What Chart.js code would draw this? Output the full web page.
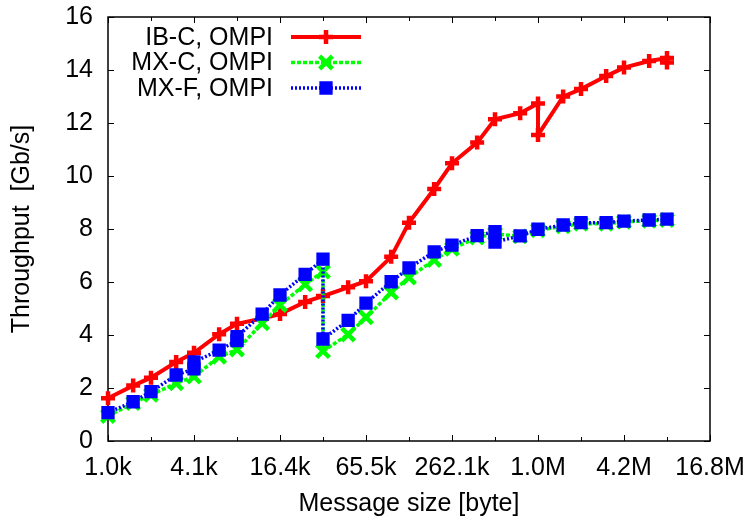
<!DOCTYPE html>
<html>
<head>
<meta charset="utf-8">
<script src="https://cdn.jsdelivr.net/npm/chart.js@4.4.1/dist/chart.umd.min.js"></script>
<style>
  html, body { margin: 0; padding: 0; background: #fff; }
</style>
</head>
<body>
<canvas id="chart" width="746" height="516"></canvas>
<script>
// message sizes (bytes) and throughput (Gb/s)
const ibcSizes = [1024, 1536, 2048, 3072, 4096, 6144, 8192, 12288, 16384, 24576, 32768, 49152, 65536, 98304,
    131072, 196608, 262144, 393216, 524288, 786432, 1048576, 1048576, 1572864, 2097152, 3145728, 4194304,
    6291456, 8388608, 8388608];
const ibcValues = [1.61, 2.09, 2.39, 2.98, 3.33, 4.03, 4.42, 4.62, 4.79, 5.25, 5.47, 5.8, 6.03, 6.95,
    8.24, 9.51, 10.48, 11.26, 12.14, 12.37, 12.74, 11.55, 13.0, 13.28, 13.77, 14.09,
    14.34, 14.45, 14.28];

const mxcSizes = [1024, 1536, 2048, 3072, 4096, 6144, 8192, 12288, 16384, 24576, 32768, 32768, 49152, 65536,
    98304, 131072, 196608, 262144, 393216, 524288, 786432, 1048576, 1572864, 2097152, 3145728, 4194304,
    6291456, 8388608];
const mxcValues = [0.94, 1.43, 1.74, 2.18, 2.43, 3.18, 3.45, 4.44, 5.13, 5.91, 6.39, 3.39, 4.02, 4.67,
    5.6, 6.17, 6.83, 7.25, 7.68, 7.82, 7.72, 7.95, 8.1, 8.2, 8.2, 8.27,
    8.31, 8.34];

const mxfSizes = [1024, 1536, 2048, 3072, 4096, 4096, 6144, 8192, 8192, 12288, 16384, 24576, 32768, 32768,
    49152, 65536, 98304, 131072, 196608, 262144, 393216, 524288, 524288, 786432, 1048576, 1572864,
    2097152, 3145728, 4194304, 6291456, 8388608];
const mxfValues = [1.07, 1.48, 1.86, 2.49, 2.72, 2.98, 3.43, 3.79, 3.94, 4.79, 5.51, 6.29, 6.86, 3.85,
    4.55, 5.2, 6.01, 6.53, 7.14, 7.39, 7.75, 7.9, 7.51, 7.74, 7.99, 8.15,
    8.24, 8.24, 8.3, 8.34, 8.37];

// axis ticks
const xTickValues = [1024, 4096, 16384, 65536, 262144, 1048576, 4194304, 16777216];
const xTickLabels = ['1.0k', '4.1k', '16.4k', '65.5k', '262.1k', '1.0M', '4.2M', '16.8M'];
const xMinorTicks = [2048, 8192, 32768, 131072, 524288, 2097152, 8388608];
const yTickValues = [0, 2, 4, 6, 8, 10, 12, 14, 16];

const FONT = "'Liberation Sans', Arial, sans-serif";
const FONT_SIZE = 25;

const toPoints = (xs, ys) => xs.map((x, i) => ({ x: x, y: ys[i] }));

// frame + inward tick marks, gnuplot style
const framePlugin = {
    id: 'frame',
    beforeDatasetsDraw(chart) {
        const { ctx, chartArea: a, scales } = chart;
        ctx.save();
        ctx.strokeStyle = '#000';
        ctx.lineWidth = 1.5;
        ctx.strokeRect(a.left, a.top, a.right - a.left, a.bottom - a.top);
        ctx.lineWidth = 1;
        ctx.beginPath();
        xTickValues.forEach(v => {
            const px = Math.round(scales.x.getPixelForValue(v)) + 0.5;
            ctx.moveTo(px, a.bottom); ctx.lineTo(px, a.bottom - 6);
            ctx.moveTo(px, a.top); ctx.lineTo(px, a.top + 6);
        });
        xMinorTicks.forEach(v => {
            const px = Math.round(scales.x.getPixelForValue(v)) + 0.5;
            ctx.moveTo(px, a.bottom); ctx.lineTo(px, a.bottom - 4);
            ctx.moveTo(px, a.top); ctx.lineTo(px, a.top + 4);
        });
        yTickValues.forEach(v => {
            const py = Math.round(scales.y.getPixelForValue(v)) + 0.5;
            ctx.moveTo(a.left, py); ctx.lineTo(a.left + 6, py);
            ctx.moveTo(a.right, py); ctx.lineTo(a.right - 6, py);
        });
        ctx.stroke();
        ctx.restore();
    }
};

// key in the top left corner: text right aligned, sample line on the right
const keyPlugin = {
    id: 'key',
    afterDraw(chart) {
        const ctx = chart.ctx;
        ctx.save();
        ctx.font = FONT_SIZE + 'px ' + FONT;
        ctx.textAlign = 'right';
        ctx.textBaseline = 'middle';
        chart.data.datasets.forEach((ds, i) => {
            const y = 37 + 25.5 * i;
            ctx.fillStyle = '#000';
            ctx.fillText(ds.label, 273, y + 1);
            ctx.strokeStyle = ds.borderColor;
            ctx.lineWidth = ds.borderWidth;
            ctx.setLineDash(ds.borderDash || []);
            ctx.beginPath();
            ctx.moveTo(291, y);
            ctx.lineTo(361, y);
            ctx.stroke();
            ctx.setLineDash([]);
            ctx.fillStyle = ds.pointBackgroundColor;
            ctx.strokeStyle = ds.pointBorderColor;
            ctx.lineWidth = ds.pointBorderWidth;
            Chart.helpers.drawPoint(ctx, {
                pointStyle: ds.pointStyle, radius: ds.pointRadius,
                borderWidth: ds.pointBorderWidth, rotation: 0
            }, 326, y);
        });
        ctx.restore();
    }
};

new Chart(document.getElementById('chart').getContext('2d'), {
    type: 'scatter',
    data: {
        datasets: [{
            label: 'IB-C, OMPI',
            data: toPoints(ibcSizes, ibcValues),
            showLine: true,
            borderColor: '#ff0000',
            borderWidth: 4,
            pointStyle: 'cross',
            pointRadius: 7,
            pointBorderWidth: 4.5,
            pointBorderColor: '#ff0000',
            pointBackgroundColor: '#ff0000',
            clip: false,
            order: 2
        }, {
            label: 'MX-C, OMPI',
            data: toPoints(mxcSizes, mxcValues),
            showLine: true,
            borderColor: '#00ff00',
            borderWidth: 3.5,
            borderDash: [4, 2],
            pointStyle: 'crossRot',
            pointRadius: 9,
            pointBorderWidth: 4.5,
            pointBorderColor: '#00ff00',
            pointBackgroundColor: '#00ff00',
            clip: false,
            order: 1
        }, {
            label: 'MX-F, OMPI',
            data: toPoints(mxfSizes, mxfValues),
            showLine: true,
            borderColor: '#0000ff',
            borderWidth: 3.5,
            borderDash: [2, 2],
            pointStyle: 'rect',
            pointRadius: 8,
            pointBorderWidth: 2,
            pointBorderColor: '#0000ff',
            pointBackgroundColor: '#0000ff',
            clip: false,
            order: 0
        }]
    },
    options: {
        responsive: false,
        animation: false,
        devicePixelRatio: 1,
        layout: { padding: { left: 0, top: 17, right: 36, bottom: 0 } },
        plugins: {
            legend: { display: false },
            tooltip: { enabled: false }
        },
        scales: {
            x: {
                type: 'logarithmic',
                min: 1024,
                max: 16777216,
                grid: { display: false, drawTicks: false },
                border: { display: false },
                afterBuildTicks: scale => { scale.ticks = xTickValues.map(v => ({ value: v })); },
                afterFit: scale => {
                    scale.height = 75;
                    scale.paddingLeft = 0;
                    scale.paddingRight = 0;
                },
                ticks: {
                    autoSkip: false,
                    maxRotation: 0,
                    padding: 12,
                    color: '#000',
                    font: { family: FONT, size: FONT_SIZE },
                    callback: value => xTickLabels[xTickValues.indexOf(value)]
                },
                title: {
                    display: true,
                    text: 'Message size [byte]',
                    color: '#000',
                    font: { family: FONT, size: FONT_SIZE },
                    padding: { top: 0, bottom: -3 }
                }
            },
            y: {
                min: 0,
                max: 16,
                grid: { display: false, drawTicks: false },
                border: { display: false },
                afterBuildTicks: scale => { scale.ticks = yTickValues.map(v => ({ value: v })); },
                afterFit: scale => {
                    scale.width = 108;
                    scale.paddingTop = 0;
                    scale.paddingBottom = 0;
                },
                ticks: {
                    padding: 15,
                    color: '#000',
                    font: { family: FONT, size: FONT_SIZE }
                },
                title: {
                    display: true,
                    text: 'Throughput  [Gb/s]',
                    color: '#000',
                    font: { family: FONT, size: FONT_SIZE },
                    padding: { top: 7, bottom: 0 }
                }
            }
        }
    },
    plugins: [framePlugin, keyPlugin]
});
</script>
</body>
</html>
